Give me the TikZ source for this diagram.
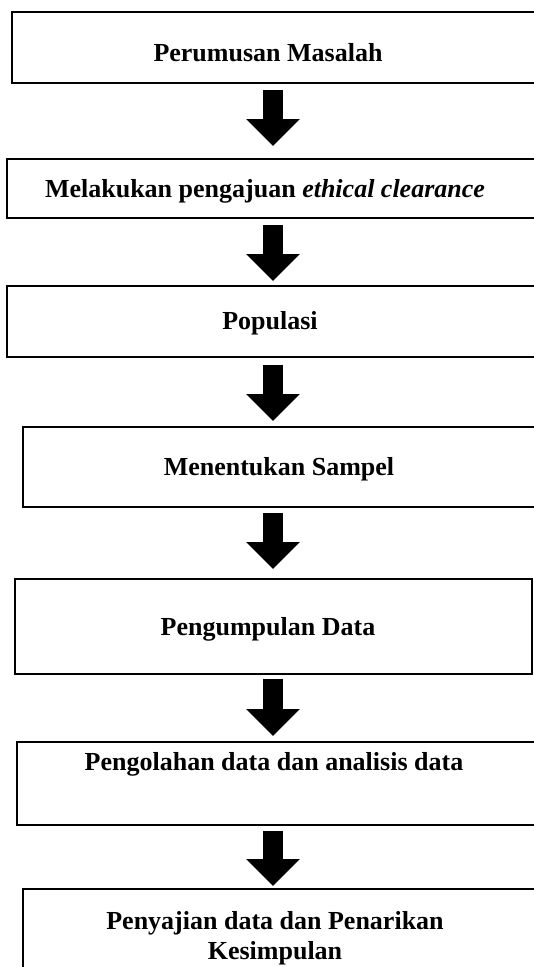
\documentclass[tikz,border=0pt]{standalone}
\usepackage{fontspec}
\setmainfont{Liberation Serif}
\usetikzlibrary{arrows.meta}
\begin{document}
\begin{tikzpicture}[x=0.02cm, y=-0.02cm,
  every node/.style={font=\fontsize{14.8}{17}\selectfont\bfseries},
  stepbox/.style={rectangle, draw, line width=1.1pt, inner sep=0pt},
  steptext/.style={align=center},
  bigarrow/.style={line width=0.4cm, -{Triangle[width=1.04cm, length=0.54cm]}}]
  \useasboundingbox (0,0) rectangle (534,967);
  \clip (0,0) rectangle (534,967);
  % boxes of the flow
  \node[stepbox, minimum width=10.66cm, minimum height=1.42cm] (b1) at (278.5,47.5) {};
  \node[stepbox, minimum width=10.76cm, minimum height=1.18cm] (b2) at (276,188.5) {};
  \node[stepbox, minimum width=10.76cm, minimum height=1.42cm] (b3) at (276,321.5) {};
  \node[stepbox, minimum width=10.44cm, minimum height=1.60cm] (b4) at (284,467) {};
  \node[stepbox, minimum width=10.34cm, minimum height=1.90cm] (b5) at (273.5,626.5) {};
  \node[stepbox, minimum width=10.56cm, minimum height=1.66cm] (b6) at (281,783.5) {};
  \node[stepbox, minimum width=10.44cm, minimum height=2.02cm] (b7) at (284,939.5) {};
  % texts
  \node[steptext] (t1) at (268,53) {Perumusan Masalah};
  \node[steptext] (t2) at (265,191) {Melakukan pengajuan \textit{ethical clearance}};
  \node[steptext] (t3) at (270,323) {Populasi};
  \node[steptext] (t4) at (279,469) {Menentukan Sampel};
  \node[steptext] (t5) at (268,629) {Pengumpulan Data};
  \node[steptext] (t6) at (274,764) {Pengolahan data dan analisis data};
  \node[steptext] (t7) at (275,938) {Penyajian data dan Penarikan\\Kesimpulan};
  % block arrows between the steps
  \coordinate (ax) at (273,0);
  \foreach \a/\b/\s/\e in {b1/b2/6/12, b2/b3/6/4, b3/b4/7/5, b4/b5/5/9, b5/b6/4/5, b6/b7/5/2}
    \draw[bigarrow, shorten <=\s*0.02cm, shorten >=\e*0.02cm] (\a.south -| ax) -- (\b.north -| ax);
\end{tikzpicture}
\end{document}
